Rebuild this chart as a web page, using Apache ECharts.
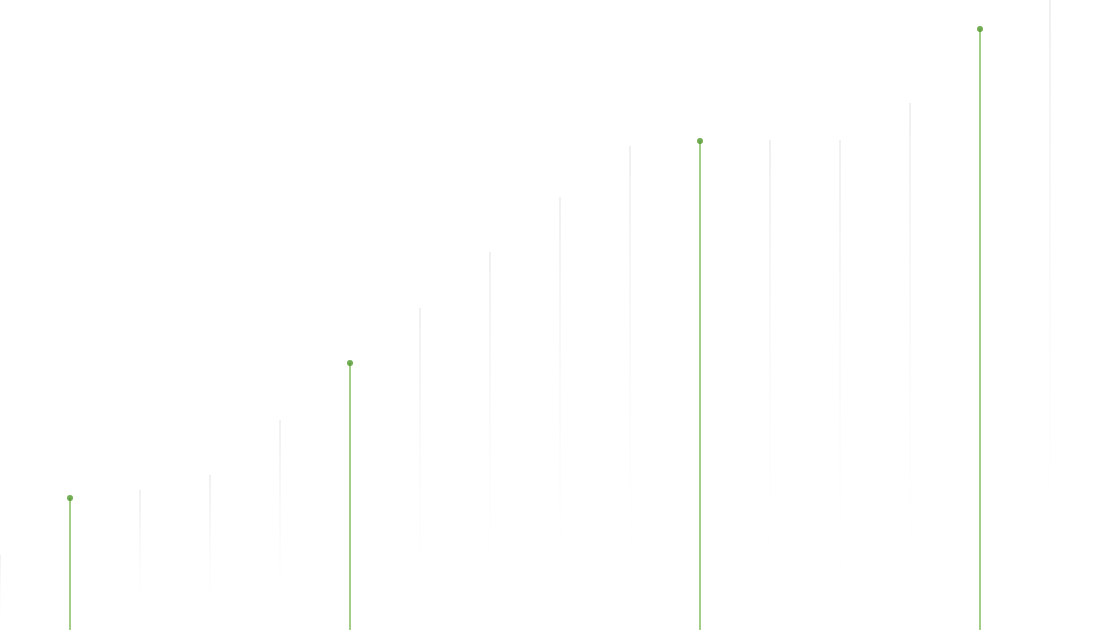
<!DOCTYPE html>
<html>
<head>
<meta charset="utf-8">
<script src="https://cdn.jsdelivr.net/npm/echarts@6/dist/echarts.min.js"></script>
<style>
  html, body { margin: 0; padding: 0; background: #fff; }
  #chart { width: 1120px; height: 630px; }
</style>
</head>
<body>
<div id="chart"></div>
<script>
var categories = ['1','2','3','4','5','6','7','8','9','10','11','12','13','14','15','16','17']
// faded grey stems
var greyValues = [7.5, null, 14, 15.5, 21, null, 32.2, 37.8, 43.3, 48.4, null, 49, 49, 52.7, null, 64, null]
// highlighted green stems with a dot on top
var greenValues = [null, 13.2, null, null, null, 26.7, null, null, null, null, 48.9, null, null, null, 60.1, null, null]
var yMax = 63

var chart = echarts.init(document.getElementById('chart'))

var option = {
    animation: false,
    grid: { left: 0, right: 0, top: 0, bottom: 0 },
    xAxis: {
        type: 'category',
        data: categories,
        boundaryGap: false,
        show: false
    },
    yAxis: {
        type: 'value',
        min: 0,
        max: yMax,
        show: false
    },
    series: [
        {
            name: 'grey',
            type: 'bar',
            data: greyValues,
            barWidth: 2,
            barGap: '-100%',
            itemStyle: {
                color: new echarts.graphic.LinearGradient(0, 0, 0, 1, [
                    { offset: 0, color: 'rgba(240,240,240,1)' },
                    { offset: 1, color: 'rgba(255,255,255,0)' }
                ])
            }
        },
        {
            name: 'green',
            type: 'bar',
            data: greenValues,
            barWidth: 2,
            barGap: '-100%',
            itemStyle: { color: '#a4cd89' }
        },
        {
            name: 'dots',
            type: 'scatter',
            data: greenValues,
            symbol: 'circle',
            symbolSize: 6,
            itemStyle: { color: '#50992a' }
        }
    ]
}
chart.setOption(option)
</script>
</body>
</html>
